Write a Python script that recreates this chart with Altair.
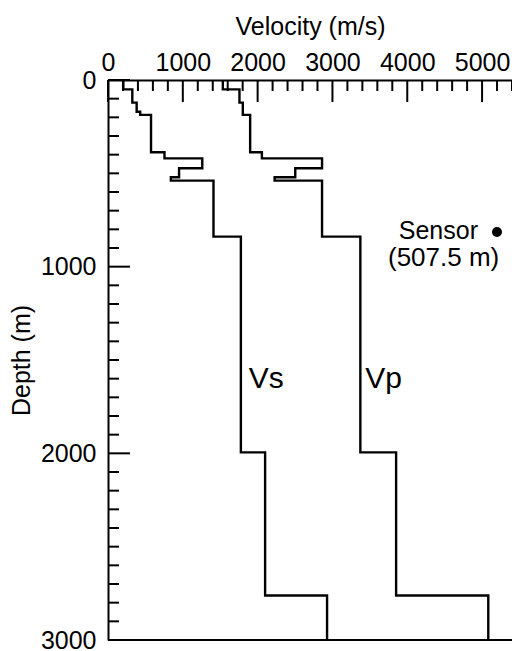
import altair as alt
import pandas as pd

# Layer boundaries (m) and interval velocities (m/s) of the layered model
depth_bounds = [0, 50, 121, 170, 187, 387, 420, 473, 521, 539, 839, 1995, 2762, 3000]
vs_layers = [205, 325, 383, 430, 575, 755, 1260, 950, 840, 1410, 1776, 2100, 2928]
vp_layers = [1535, 1757, 1802, 1802, 1900, 2057, 2861, 2503, 2227, 2861, 3373, 3851, 5083]

# Axis tick values
x_major = [0, 1000, 2000, 3000, 4000, 5000]
x_minor = [v for v in range(200, 5401, 200) if v % 1000 != 0]
y_major = [0, 1000, 2000, 3000]
y_minor = [d for d in range(100, 3000, 100) if d % 1000 != 0]

# Curve labels
curve_names = ["Vs", "Vp"]
curve_label_v = [1880, 3440]
curve_label_d = [1600, 1600]

W, H = 404, 560
FONT = "Liberation Sans"
LABEL_SIZE = 25
TITLE_SIZE = 25


def step_rows(name, vel):
    rows = []
    for i, v in enumerate(vel):
        rows.append({"series": name, "idx": 2 * i, "v": v, "d": depth_bounds[i]})
        rows.append({"series": name, "idx": 2 * i + 1, "v": v, "d": depth_bounds[i + 1]})
    return rows


profiles = pd.DataFrame(step_rows("Vs", vs_layers) + step_rows("Vp", vp_layers))

xs = alt.Scale(domain=[0, 5400], nice=False, zero=False)
ys = alt.Scale(domain=[0, 3000], reverse=True, nice=False, zero=False)

x_axis = alt.Axis(
    orient="top", values=x_major, format="d", title="Velocity (m/s)", ticks=False, grid=False,
    domainColor="black", domainWidth=2, labelFontSize=LABEL_SIZE, titleFontSize=TITLE_SIZE,
    labelFont=FONT, titleFont=FONT, labelColor="black", titleColor="black",
    titleFontWeight="normal", labelPadding=5, titlePadding=11, labelFlush=False)
y_axis = alt.Axis(
    values=y_major, format="d", title="Depth (m)", ticks=False, grid=False,
    domainColor="black", domainWidth=2, labelFontSize=LABEL_SIZE, titleFontSize=TITLE_SIZE,
    labelFont=FONT, titleFont=FONT, labelColor="black", titleColor="black",
    titleFontWeight="normal", labelPadding=12, titlePadding=6, labelFlush=False)

X = alt.X("v:Q", scale=xs, axis=x_axis)
Y = alt.Y("d:Q", scale=ys, axis=y_axis)

lines = alt.Chart(profiles).mark_line(color="black", strokeWidth=2.4, interpolate="linear").encode(
    x=X, y=Y, detail="series:N", order="idx:Q",
)

tick_style = dict(color="black", strokeWidth=2)

xmin_ticks = alt.Chart(pd.DataFrame({"v": x_minor})).mark_rule(**tick_style).encode(
    x=X, y=alt.value(0), y2=alt.value(11))
xmaj_ticks = alt.Chart(pd.DataFrame({"v": x_major})).mark_rule(**tick_style).encode(
    x=X, y=alt.value(0), y2=alt.value(22))
ymin_ticks = alt.Chart(pd.DataFrame({"d": y_minor})).mark_rule(**tick_style).encode(
    y=Y, x=alt.value(0), x2=alt.value(11))
ymaj_ticks = alt.Chart(pd.DataFrame({"d": y_major})).mark_rule(**tick_style).encode(
    y=Y, x=alt.value(0), x2=alt.value(22))

bottom_line = alt.Chart(pd.DataFrame({"d": [3000]})).mark_rule(**tick_style).encode(
    y=Y, x=alt.value(0), x2=alt.value(W))

curve_text = alt.Chart(pd.DataFrame({
    "name": curve_names, "v": curve_label_v, "d": curve_label_d,
})).mark_text(align="left", baseline="middle", fontSize=30, font=FONT, color="black").encode(
    x=X, y=Y, text="name:N",
)

# Sensor legend annotation
note = pd.DataFrame({"a": [0]})
sensor_text = alt.Chart(note).mark_text(
    align="right", baseline="middle", fontSize=25, font=FONT, color="black"
).encode(x=alt.value(370), y=alt.value(151), text=alt.value("Sensor"))
sensor_depth = alt.Chart(note).mark_text(
    align="left", baseline="middle", fontSize=26, font=FONT, color="black"
).encode(x=alt.value(280), y=alt.value(178), text=alt.value("(507.5 m)"))
sensor_dot = alt.Chart(note).mark_point(
    filled=True, color="black", size=100, opacity=1, shape="circle"
).encode(x=alt.value(389), y=alt.value(152))

chart = alt.layer(
    lines, xmin_ticks, xmaj_ticks, ymin_ticks, ymaj_ticks, bottom_line,
    curve_text, sensor_text, sensor_depth, sensor_dot,
).properties(
    width=W, height=H,
    autosize=alt.AutoSizeParams(type="none"),
    padding={"left": 108, "top": 80, "right": 0, "bottom": 11},
    background="white",
).configure_view(strokeWidth=0)

chart.save("out.html", embed_options={"renderer": "svg", "actions": False})
